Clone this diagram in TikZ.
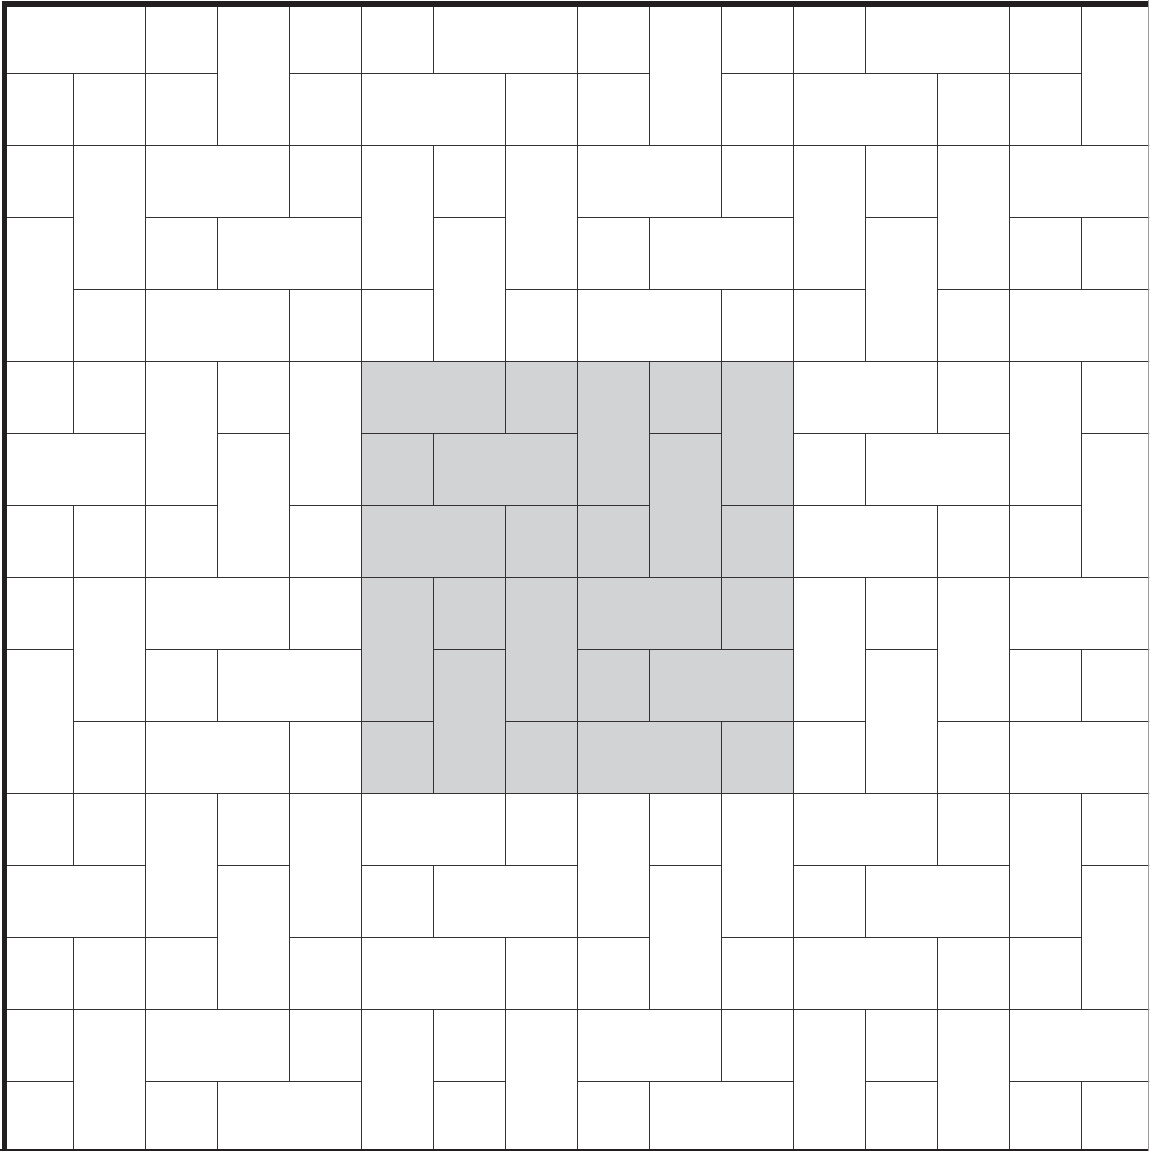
\documentclass[tikz,border=0pt]{standalone}
\definecolor{tilegray}{RGB}{209,211,212}
\definecolor{ink}{RGB}{35,31,32}
\begin{document}
\begin{tikzpicture}[x=1pt,y=-1pt,
  tileline/.style={draw=ink!92, line width=1.3pt},
  frameline/.style={draw=ink, line width=5.5pt}]
\useasboundingbox (0,0) rectangle (1149,1151);
\clip (0,0) rectangle (1149,1151);
\fill[white] (0,0) rectangle (1149,1151);
\begin{scope}
\clip (2,2) rectangle (1149,1151);
% shaded central block (columns 5-10, rows 5-10)
\fill[tilegray] ({1.5+72*5},{1.5+72*5}) rectangle ({1.5+72*11},{1.5+72*11});
% periodic 6x6 tiling
\foreach \a in {-1,0,1,2}{
  \foreach \b in {-1,0,1,2}{
    \foreach \i/\j/\w/\h in {0/0/2/1, 2/0/1/1, 3/0/1/2, 4/0/1/1, 5/0/1/2,
                             0/1/1/1, 1/1/2/1, 4/1/1/2,
                             0/2/2/1, 2/2/1/1, 3/2/1/1, 5/2/1/1,
                             0/3/1/2, 1/3/1/1, 2/3/1/2, 3/3/2/1, 5/3/1/1,
                             1/4/1/2, 3/4/1/1, 4/4/2/1,
                             0/5/1/1, 2/5/1/1, 3/5/2/1, 5/5/1/1}{
      \draw[tileline] ({1.5+72*(5+6*\a+\i)},{1.5+72*(5+6*\b+\j)})
        rectangle ++({72*\w},{72*\h});
    }
  }
}
\end{scope}
% outer frame
\draw[frameline] (4.5,1.2) -- (4.5,1151);
\draw[frameline] (1.7,4) -- (1149,4);
\draw[frameline] (0,1152) -- (1149,1152);
\draw[draw=ink!45, line width=1pt] (1148.5,0) -- (1148.5,1151);
\end{tikzpicture}
\end{document}
